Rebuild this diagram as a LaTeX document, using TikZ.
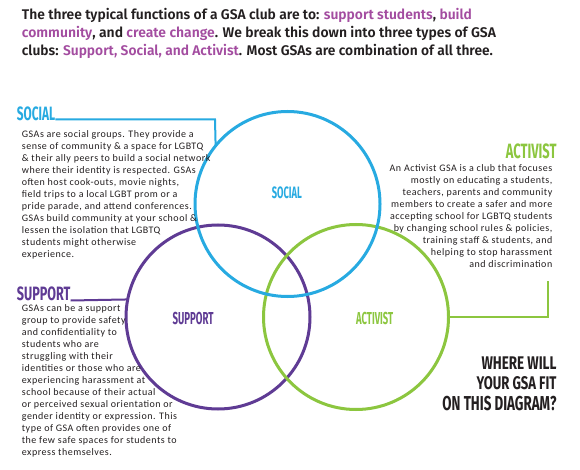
\documentclass[tikz,border=0pt]{standalone}
\usepackage{fontspec}
\usepackage{graphicx}
\setmainfont{Carlito}
\newfontfamily\bodyfont{Carlito}[LetterSpace=5]
\newfontfamily\headfont{Fira Sans}
\newfontfamily\titlefont{Fira Sans}[BoldFont={Fira Sans SemiBold}]
\definecolor{socialc}{RGB}{39,170,225}
\definecolor{supportc}{RGB}{95,59,148}
\definecolor{activistc}{RGB}{140,198,63}
\definecolor{magentac}{RGB}{163,76,160}
\definecolor{darkc}{RGB}{35,31,32}
\tikzset{
  ring/.style={circle, line width=3pt, minimum size=#1, inner sep=0pt, outer sep=0pt},
  conn/.style={line width=2pt},
  bodyline/.style={inner sep=0pt, font=\bodyfont\fontsize{10}{12}\selectfont, text=darkc},
  head/.style={inner sep=0pt, anchor=south west},
}
\newcommand\hfit[3]{\resizebox{#1}{#2}{\headfont\bfseries #3}}
\newcommand\tfit[2]{\resizebox{#1}{\height}{\titlefont\bfseries\fontsize{14}{14}\selectfont #2}}
\begin{document}
\begin{tikzpicture}[x=1pt,y=-1pt]
\useasboundingbox (0,0) rectangle (580,470);
\fill[white] (0,0) rectangle (580,470);
% title
\node[inner sep=0pt, anchor=base west, text=darkc] (t1) at (21.7,20) {\tfit{450pt}{The three typical functions of a GSA club are to: \textcolor{magentac}{support students}, \textcolor{magentac}{build}}};
\node[inner sep=0pt, anchor=base west, text=darkc] (t2) at (21.7,37.5) {\tfit{474pt}{\textcolor{magentac}{community}, and \textcolor{magentac}{create change}. We break this down into three types of GSA}};
\node[inner sep=0pt, anchor=base west, text=darkc] (t3) at (21.7,55.5) {\tfit{471pt}{clubs: \textcolor{magentac}{Support, Social, and Activist}. Most GSAs are combination of all three.}};
% circles
\node[ring=184pt, draw=supportc] (csupport) at (218,317) {};
\node[ring=185pt, draw=activistc] (cactivist) at (356,317) {};
\node[ring=185pt, draw=socialc] (csocial) at (287.5,204) {};
% circle labels
\node[head, text=socialc] (lsocial) at (271.7,199) {\hfit{30pt}{11.7pt}{SOCIAL}};
\node[head, text=supportc] (lsupport) at (172.3,325) {\hfit{41pt}{12.3pt}{SUPPORT}};
\node[head, text=activistc] (lactivist) at (356,325) {\hfit{37pt}{12.3pt}{ACTIVIST}};
% headings
\node[head, text=socialc] (hsocial) at (16.7,121) {\hfit{38.3pt}{13.7pt}{SOCIAL}};
\node[head, text=supportc] (hsupport) at (16.7,301) {\hfit{53.5pt}{13.7pt}{SUPPORT}};
\node[head, text=activistc, anchor=south east] (hactivist) at (556.7,158.7) {\hfit{50.7pt}{14.7pt}{ACTIVIST}};
% connectors
\coordinate (sbend) at (215,119.5);
\draw[conn, socialc] (hsocial.south east |- sbend) -- (sbend) -- (csocial.141.6);
\coordinate (pstart) at (70,300.5);
\draw[conn, supportc] (hsupport.south east |- pstart) -- (csupport.169.8);
\coordinate (abend) at (547.7,317);
\coordinate (aend) at (547.7,280.7);
\draw[conn, activistc] (cactivist.east) -- (abend) -- (aend);
% social text
\foreach \t [count=\i] in {
 {GSAs are social groups. They provide a},
 {sense of community \& a space for LGBTQ},
 {\& their ally peers to build a social network},
 {where their identity is respected. GSAs},
 {often host cook-outs, movie nights,},
 {field trips to a local LGBT prom or a},
 {pride parade, and attend conferences.},
 {GSAs build community at your school \&},
 {lessen the isolation that LGBTQ},
 {students might otherwise},
 {experience.}}
 \node[bodyline, anchor=base west] (so\i) at (21.7,125.7+12*\i) {\t};
% support text
\foreach \t [count=\i] in {
 {GSAs can be a support},
 {group to provide safety},
 {and confidentiality to},
 {students who are},
 {struggling with their},
 {identities or those who are},
 {experiencing harassment at},
 {school because of their actual},
 {or perceived sexual orientation or},
 {gender identity or expression. This},
 {type of GSA often provides one of},
 {the few safe spaces for students to},
 {express themselves.}}
 \node[bodyline, anchor=base west] (su\i) at (21.7,299+12*\i) {\t};
% activist text
\foreach \t [count=\i] in {
 {An Activist GSA is a club that focuses},
 {mostly on educating a students,},
 {teachers, parents and community},
 {members to create a safer and more},
 {accepting school for LGBTQ students},
 {by changing school rules \& policies,},
 {training staff \& students, and},
 {helping to stop harassment},
 {and discrimination}}
 \node[bodyline, anchor=base east] (ac\i) at (552.5,159.7+12*\i) {\t};
% question
\node[head, anchor=south east, text=darkc] (q1) at (556.7,369.3) {\hfit{75pt}{12.7pt}{WHERE WILL}};
\node[head, anchor=south east, text=darkc] (q2) at (556.7,390) {\hfit{80pt}{13pt}{YOUR GSA FIT}};
\node[head, anchor=south east, text=darkc] (q3) at (556.7,411) {\hfit{114pt}{14.3pt}{ON THIS DIAGRAM?}};
\end{tikzpicture}
\end{document}
